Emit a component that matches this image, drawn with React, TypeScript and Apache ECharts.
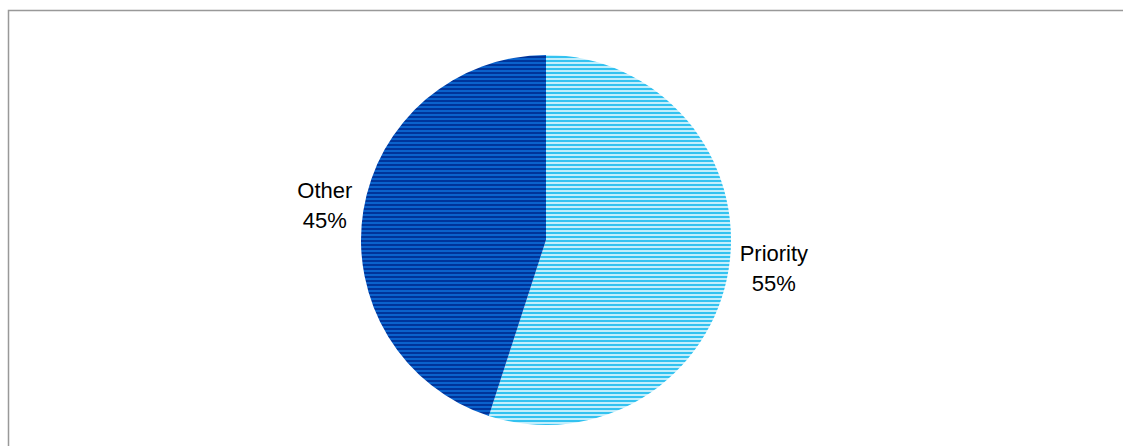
import React, { useEffect, useRef } from "react";
import * as echarts from "echarts";

const categories = ["Priority", "Other"];
const values = [55, 45];
const stripeColors = [
  ["#33c2f0", "#c2eefc"],
  ["#00349a", "#0a62cc"],
];

function stripe(c1: string, c2: string): string {
  const cv = document.createElement("canvas");
  cv.width = 4;
  cv.height = 4;
  const ctx = cv.getContext("2d")!;
  ctx.fillStyle = c1;
  ctx.fillRect(0, 0, 4, 2);
  ctx.fillStyle = c2;
  ctx.fillRect(0, 2, 4, 2);
  return cv.toDataURL();
}

export default function App() {
  const ref = useRef<HTMLDivElement>(null);
  useEffect(() => {
    if (!ref.current) return;
    const chart = echarts.init(ref.current, null, { renderer: "svg" });
    const data = categories.map((name, i) => ({
      name,
      value: values[i],
      itemStyle: {
        color: { image: stripe(stripeColors[i][0], stripeColors[i][1]), repeat: "repeat" } as any,
      },
    }));
    chart.setOption({
      animation: false,
      graphic: [
        {
          type: "rect",
          shape: { x: 8.5, y: 10.5, width: 1200, height: 600 },
          style: { fill: "none", stroke: "#999999", lineWidth: 1.5 },
          silent: true,
        },
      ],
      series: [
        {
          type: "pie",
          center: [546, 240],
          radius: 185,
          startAngle: 90,
          clockwise: true,
          avoidLabelOverlap: false,
          data,
          itemStyle: { borderWidth: 0 },
          label: {
            show: true,
            position: "outside",
            formatter: (p: any) => `{c|${p.name}}\n{c|${p.value}%}`,
            rich: {
              c: {
                align: "center",
                fontSize: 22,
                lineHeight: 30,
                color: "#000",
                fontFamily: "Liberation Sans, Arial, sans-serif",
              },
            },
          },
          labelLine: { show: false, length: 6, length2: 0 },
          labelLayout: (p: any) => (p.dataIndex === 1 ? { dy: -5 } : { dy: -1 }),
          emphasis: { disabled: true },
        },
      ],
    });
    return () => chart.dispose();
  }, []);
  return (
    <div
      ref={ref}
      style={{ position: "absolute", left: 0, top: 0, width: 1123, height: 446, background: "#fff" }}
    />
  );
}
